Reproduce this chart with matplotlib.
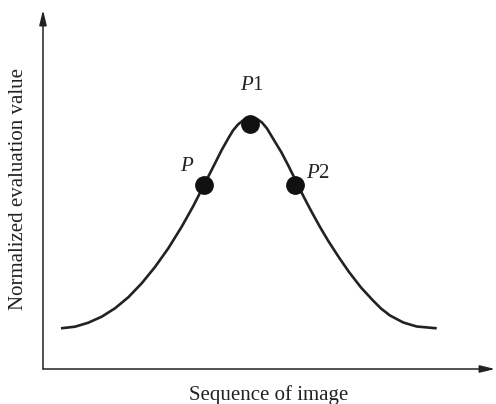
import matplotlib
matplotlib.use("Agg")
import matplotlib.pyplot as plt

plt.rcParams['font.family'] = ['Liberation Serif', 'DejaVu Serif']
plt.rcParams['mathtext.fontset'] = 'custom'
plt.rcParams['mathtext.it'] = 'Liberation Serif:italic'
plt.rcParams['mathtext.rm'] = 'Liberation Serif'

# curve (sequence position, evaluation value; no units on the axes)
seq_x = [18, 32, 45.3, 58.7, 72, 85.3, 98.7, 112, 125.3, 138.7, 150.3, 161,
         170.3, 178.7, 185.3, 190, 195, 200, 205, 209.5, 214, 219, 224,
         230.3, 238.5, 245, 252, 260.3, 268.7, 277, 285.3, 296, 306, 318,
         330, 338, 347, 360.3, 373.7, 393.7]
eval_y = [40.7, 42.3, 46.3, 52.3, 60.7, 71.7, 85.7, 102, 120.7, 142.3, 163, 184,
          202.3, 219, 230.7, 238.5, 244.5, 248.5, 250.7, 251.2, 250, 246.5, 240.5,
          230, 216.5, 204, 190, 173, 157, 142, 128, 111.5, 97, 81.5,
          68.5, 60.5, 53.5, 46.5, 42.5, 40.7]

# marked points
pt_names = ['P', 'P1', 'P2']
pt_x = [161, 207, 252]
pt_y = [184, 244.7, 184]
label_x = [143.7, 208.7, 275.3]
label_y = [202.3, 284, 195.7]

fig = plt.figure(figsize=(4.96, 4.04), dpi=100)
ax = fig.add_axes([43/496, 35/404, 452/496, 359/404])
ax.set_xlim(0, 452)
ax.set_ylim(0, 359)
for s in ax.spines.values():
    s.set_visible(False)
ax.set_xticks([])
ax.set_yticks([])

# axes with arrow heads
arr = dict(arrowstyle='-|>,head_length=0.9,head_width=0.22', color='#222222',
           lw=1.1, shrinkA=0, shrinkB=0)
ax.annotate('', xy=(1, 0), xytext=(0, 0), xycoords='axes fraction', arrowprops=arr)
ax.annotate('', xy=(0, 1), xytext=(0, 0), xycoords='axes fraction', arrowprops=arr)

ax.plot(seq_x, eval_y, color='#222222', lw=1.9, solid_capstyle='butt',
        solid_joinstyle='round')
ax.plot(pt_x, pt_y, 'o', color='#111111', ms=12.5, zorder=3)

for name, lx, ly in zip(pt_names, label_x, label_y):
    txt = r'$P$' + name[1:]
    ax.text(lx, ly, txt, fontsize=15, ha='center', va='center', color='#222222')

ax.set_xlabel('Sequence of image', fontsize=15, labelpad=11.5, color='#222222')
ax.set_ylabel('Normalized evaluation value', fontsize=15, labelpad=11, color='#222222')

fig.savefig('out.png', dpi=100)
